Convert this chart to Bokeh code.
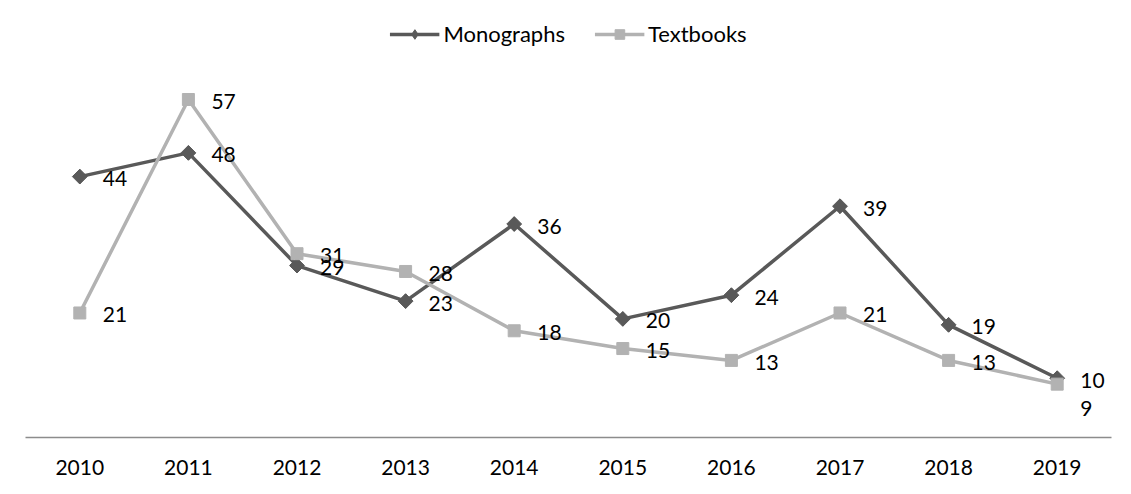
import math
from bokeh.plotting import figure
from bokeh.models import ColumnDataSource, Legend, LegendItem, FactorRange
from bokeh.core.properties import value
from bokeh.embed import file_html
from bokeh.resources import INLINE

years = ["2010", "2011", "2012", "2013", "2014", "2015", "2016", "2017", "2018", "2019"]
monographs = [44, 48, 29, 23, 36, 20, 24, 39, 19, 10]
textbooks = [21, 57, 31, 28, 18, 15, 13, 21, 13, 9]

# label vertical offsets (style only)
mono_dy = [2] * 10
text_dy = [2] * 9 + [24]

FONT = "Lato"
DARK = "#595959"
LIGHT = "#b2b2b2"

p = figure(width=1115, height=478, output_backend="svg", toolbar_location=None,
           x_range=FactorRange(*years, range_padding=0), y_range=(0, 71),
           min_border_left=25, min_border_right=4, min_border_top=16, min_border_bottom=41)
p.outline_line_color = None
p.grid.visible = False
p.yaxis.visible = False
p.xaxis.axis_line_color = "#8c8c8c"
p.xaxis.axis_line_width = 1.3
p.xaxis.major_tick_line_color = None
p.xaxis.minor_tick_line_color = None
p.xaxis.major_label_standoff = 16
p.xaxis.major_label_text_font = FONT
p.xaxis.major_label_text_font_size = "21px"
p.xaxis.major_label_text_color = "#000000"

src_m = ColumnDataSource(dict(x=years, y=monographs, t=[str(v) for v in monographs], dy=mono_dy))
src_t = ColumnDataSource(dict(x=years, y=textbooks, t=[str(v) for v in textbooks], dy=text_dy))

lm = p.line("x", "y", source=src_m, line_color=DARK, line_width=3.5)
# diamond glyph (used for the legend), covered by the rotated squares below
dm = p.scatter("x", "y", source=src_m, marker="diamond", size=14, fill_color=DARK, line_color=DARK)
sm = p.scatter("x", "y", source=src_m, marker="square", size=10.5, angle=math.pi / 4,
               fill_color=DARK, line_color=DARK)
lt = p.line("x", "y", source=src_t, line_color=LIGHT, line_width=3.5)
st = p.scatter("x", "y", source=src_t, marker="square", size=12, fill_color=LIGHT, line_color=LIGHT)

for src in (src_m, src_t):
    p.text("x", "y", text="t", source=src, x_offset=23, y_offset="dy",
           text_font=value(FONT), text_font_size="21px", text_color="#000000",
           text_align="left", text_baseline="middle")

legend = Legend(items=[LegendItem(label="Monographs", renderers=[lm, dm]),
                       LegendItem(label="Textbooks", renderers=[lt, st])],
                location="top_center", orientation="horizontal",
                glyph_width=50, glyph_height=24, label_height=24, label_standoff=4,
                spacing=29, padding=2, margin=4,
                label_text_font=FONT, label_text_font_size="22px", label_text_color="#000000",
                border_line_color=None, background_fill_alpha=0)
p.add_layout(legend)

open("out.html", "w").write(file_html(p, INLINE))
